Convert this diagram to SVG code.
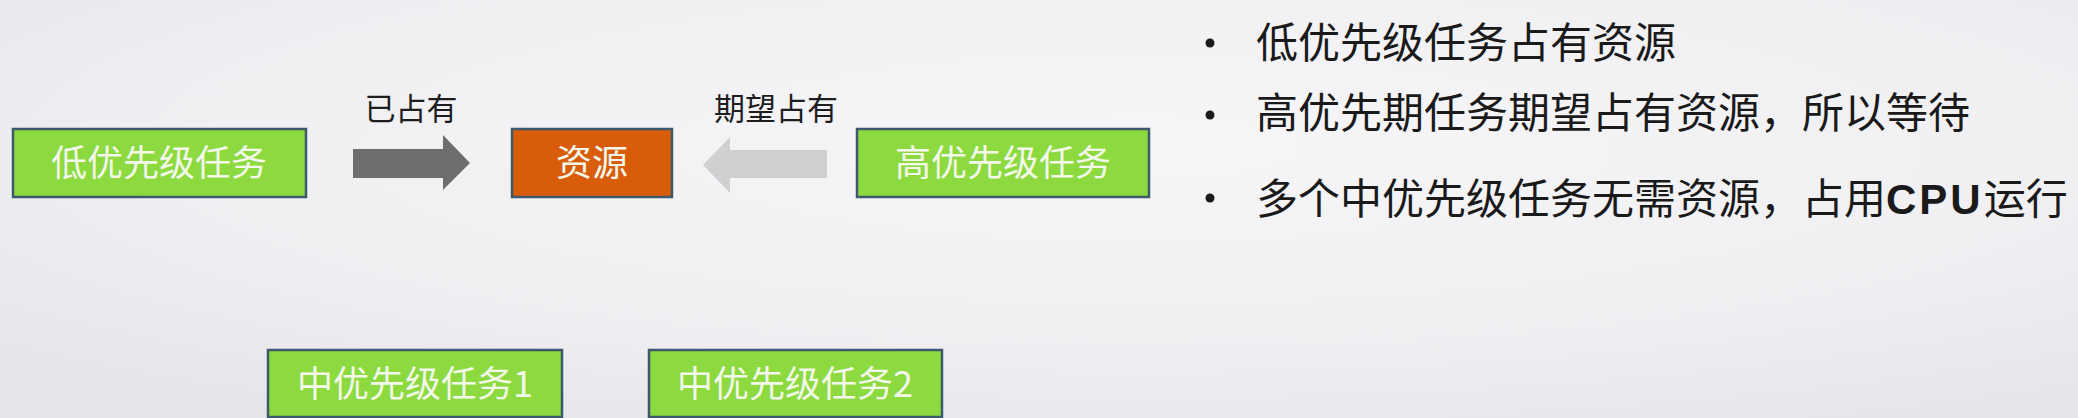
<svg xmlns="http://www.w3.org/2000/svg" width="2078" height="418" viewBox="0 0 2078 418">
<defs>
<radialGradient id="bg" cx="0.55" cy="0.35" r="0.75">
<stop offset="0" stop-color="#f6f6f8"/>
<stop offset="0.6" stop-color="#f0f0f3"/>
<stop offset="1" stop-color="#e6e6ea"/>
</radialGradient>
<style>
.box{stroke:#3d5a6c;stroke-width:2.5}
.green{fill:#8cda3f}
.orange{fill:#d95c0a}
.bt{font-family:"Noto Sans CJK SC","Noto Sans",sans-serif;font-size:36px;fill:#f3f8ea;text-anchor:middle}
.lbl{font-family:"Noto Sans CJK SC","Noto Sans",sans-serif;font-size:31px;fill:#1e1e1e;text-anchor:middle}
.li{font-family:"Noto Sans CJK SC","Noto Sans",sans-serif;font-size:42px;fill:#1a1a1a}
.cpu{font-family:"Liberation Sans",Arial,sans-serif;font-weight:bold;letter-spacing:3px}
.dot{fill:#1a1a1a}
</style>
</defs>
<rect x="0" y="0" width="2078" height="418" fill="url(#bg)"/>
<g id="connectors">
<polygon points="353,149 443,149 443,135 470,163 443,190 443,178 353,178" fill="#6e6e6e"/>
<polygon points="827,150 730,150 730,137 703,165 730,193 730,178 827,178" fill="#d0d0d3"/>
<text class="lbl" x="411" y="120">已占有</text>
<text class="lbl" x="776" y="120">期望占有</text>
</g>
<g id="node-low">
<rect class="box green" x="13" y="129" width="293" height="68"/>
<text class="bt" x="159" y="176">低优先级任务</text>
</g>
<g id="node-resource">
<rect class="box orange" x="512" y="129" width="160" height="68"/>
<text class="bt" x="592" y="176">资源</text>
</g>
<g id="node-high">
<rect class="box green" x="857" y="129" width="292" height="68"/>
<text class="bt" x="1003" y="176">高优先级任务</text>
</g>
<g id="node-mid1">
<rect class="box green" x="268" y="350" width="294" height="67"/>
<text class="bt" x="415" y="397">中优先级任务1</text>
</g>
<g id="node-mid2">
<rect class="box green" x="649" y="350" width="293" height="67"/>
<text class="bt" x="795" y="397">中优先级任务2</text>
</g>
<g id="notes">
<circle class="dot" cx="1210" cy="43" r="4.5"/>
<circle class="dot" cx="1210" cy="115" r="4.5"/>
<circle class="dot" cx="1210" cy="198" r="4.5"/>
<text class="li" x="1256" y="58">低优先级任务占有资源</text>
<text class="li" x="1256" y="128">高优先期任务期望占有资源，所以等待</text>
<text class="li" x="1256" y="214">多个中优先级任务无需资源，占用<tspan class="cpu">CPU</tspan>运行</text>
</g>
</svg>
